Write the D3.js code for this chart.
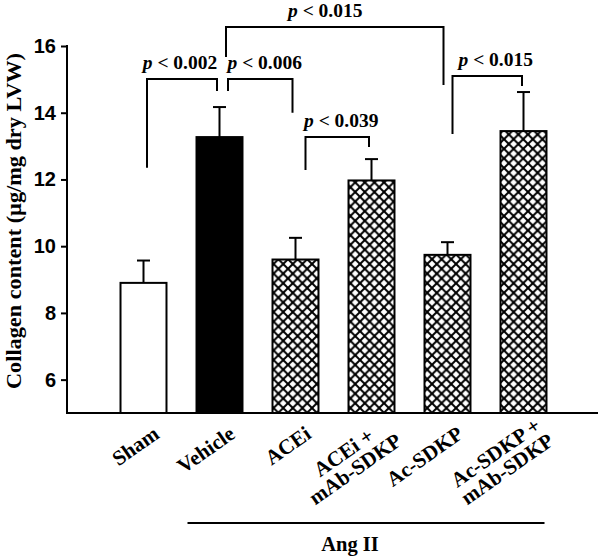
<!DOCTYPE html>
<html><head><meta charset="utf-8">
<script src="https://cdn.jsdelivr.net/npm/d3@7"></script>
<style>body{margin:0;background:#fff}svg{display:block}</style>
</head><body>
<svg id="chart" width="600" height="556"></svg>
<script>
// ---- data ----
const categories = ["Sham","Vehicle","ACEi","ACEi +\nmAb-SDKP","Ac-SDKP","Ac-SDKP +\nmAb-SDKP"];
const means  = [8.90, 13.27, 9.60, 11.97, 9.74, 13.45];
const errTop = [9.57, 14.17, 10.25, 12.61, 10.12, 14.62];
const yTicks = [6, 8, 10, 12, 14, 16];
const yTitle = "Collagen content (\u00b5g/mg dry LVW)";
const groupLabel = "Ang II";
const groupMembers = ["Vehicle","Ac-SDKP +\nmAb-SDKP"];
// comparisons: from/to category, p label, bracket top level and leg end levels (data units)
const compFrom  = ["Sham","Vehicle","Vehicle","ACEi","Ac-SDKP"];
const compTo    = ["Vehicle","ACEi","Ac-SDKP","ACEi +\nmAb-SDKP","Ac-SDKP +\nmAb-SDKP"];
const compP     = ["0.002","0.006","0.015","0.039","0.015"];
const compTop   = [15.01, 15.01, 16.57, 13.27, 15.10];
const compFromEnd = [12.35, 14.65, 15.67, 12.28, 13.36];
const compToEnd   = [14.65, 14.00, 14.83, 12.97, 14.80];

// ---- layout / style ----
const serif = "'Liberation Serif','Times New Roman',serif";
const sans = "'Liberation Sans',Arial,sans-serif";
const legDx = {fromDx:[3.5, 8.5, 6.5, 10, 5], toDx:[-2.5, -3, -4, -2.5, -1.5]};
const labelDx = [-2, 4.5, -9.5, 4, 8.5];
const fillFor = i => i === 0 ? "#fff" : (i === 1 ? "#000" : "url(#hatch)");

const svg = d3.select("#chart");
const defs = svg.append("defs");
const pat = defs.append("pattern").attr("id","hatch").attr("patternUnits","userSpaceOnUse")
  .attr("width",9.6).attr("height",9.6).attr("x",0).attr("y",0);
pat.append("rect").attr("width",9.6).attr("height",9.6).attr("fill","#fff");
pat.append("path").attr("d","M-2.4,2.4 L2.4,-2.4 M0,9.6 L9.6,0 M7.2,12 L12,7.2").attr("stroke","#000").attr("stroke-width",2);
pat.append("path").attr("d","M-2.4,7.2 L2.4,12 M0,0 L9.6,9.6 M7.2,-2.4 L12,2.4").attr("stroke","#000").attr("stroke-width",2);

const y = d3.scaleLinear().domain([5,16]).range([413,46]);
const x = d3.scaleBand().domain(categories).range([105.5,561.5]).paddingInner(0.395).paddingOuter(0.1975);
const cx = c => x(c) + x.bandwidth()/2;

// axes
const yAxis = d3.axisLeft(y).tickValues(yTicks).tickSize(6).tickPadding(5).tickFormat(d3.format("d"));
const gy = svg.append("g").attr("transform","translate(67,0)").call(yAxis);
gy.select(".domain").remove();
gy.selectAll(".tick line").attr("stroke","#000").attr("stroke-width",2);
gy.selectAll(".tick text").attr("font-family",sans).attr("font-weight","bold").attr("font-size",20).attr("fill","#000");
svg.append("line").attr("x1",67).attr("x2",67).attr("y1",y(16)-1).attr("y2",y(5)+1).attr("stroke","#000").attr("stroke-width",2);
svg.append("line").attr("x1",66).attr("x2",598).attr("y1",y(5)).attr("y2",y(5)).attr("stroke","#000").attr("stroke-width",2);

svg.append("text").attr("transform",`translate(21,221) rotate(-90)`)
  .attr("text-anchor","middle").attr("font-family",serif).attr("font-weight","bold").attr("font-size",20.5)
  .attr("textLength",336).attr("lengthAdjust","spacingAndGlyphs")
  .text(yTitle);

// bars
const data = categories.map((c,i)=>({c, m:means[i], e:errTop[i], i}));
svg.append("g").selectAll("rect").data(data).join("rect")
  .attr("x", d=>x(d.c)).attr("width", x.bandwidth())
  .attr("y", d=>y(d.m)).attr("height", d=>y(5)-y(d.m))
  .attr("fill", d=>fillFor(d.i)).attr("stroke","#000").attr("stroke-width",2);

// error bars
const eb = svg.append("g").attr("stroke","#000").attr("stroke-width",2);
data.forEach(d=>{
  eb.append("line").attr("x1",cx(d.c)).attr("x2",cx(d.c)).attr("y1",y(d.m)).attr("y2",y(d.e));
  eb.append("line").attr("x1",cx(d.c)-6.5).attr("x2",cx(d.c)+6.5).attr("y1",y(d.e)).attr("y2",y(d.e));
});

// x labels
data.forEach(d=>{
  const lines = d.c.split("\n");
  const g = svg.append("g").attr("transform",`translate(${cx(d.c)+17},437) rotate(-35)`);
  const ts = lines.map(l=>g.append("text").attr("font-family",serif).attr("font-weight","bold").attr("font-size",21).attr("text-anchor","middle").text(l));
  const maxW = d3.max(ts, t=>t.node().getComputedTextLength());
  const vOff = lines.length === 1 ? [0] : [-6, 14];
  const uOff = lines.length === 1 ? 0 : 8;
  ts.forEach((t,k)=>t.attr("x",-maxW/2 + uOff).attr("y",vOff[k]));
});

// group line
const gx1 = cx(groupMembers[0]) - 32, gx2 = cx(groupMembers[1]) + 21;
svg.append("line").attr("x1",gx1).attr("x2",gx2)
  .attr("y1",523).attr("y2",523).attr("stroke","#000").attr("stroke-width",2);
svg.append("text").attr("x",(gx1+gx2)/2 - 16).attr("y",551)
  .attr("text-anchor","middle").attr("font-family",serif).attr("font-weight","bold").attr("font-size",20.5).text(groupLabel);

// comparison brackets
const br = svg.append("g");
compFrom.forEach((f,i)=>{
  const x1 = cx(f)+legDx.fromDx[i], x2 = cx(compTo[i])+legDx.toDx[i];
  const yt = y(compTop[i]);
  br.append("path").attr("d",`M${x1},${y(compFromEnd[i])} V${yt} H${x2} V${y(compToEnd[i])}`)
    .attr("fill","none").attr("stroke","#000").attr("stroke-width",2);
  const t = br.append("text").attr("x",(x1+x2)/2+labelDx[i]).attr("y",yt-10)
    .attr("text-anchor","middle").attr("font-family",serif).attr("font-weight","bold").attr("font-size",19.5);
  t.append("tspan").attr("font-style","italic").text("p");
  t.append("tspan").text(" < " + compP[i]);
});
</script>
</body></html>
